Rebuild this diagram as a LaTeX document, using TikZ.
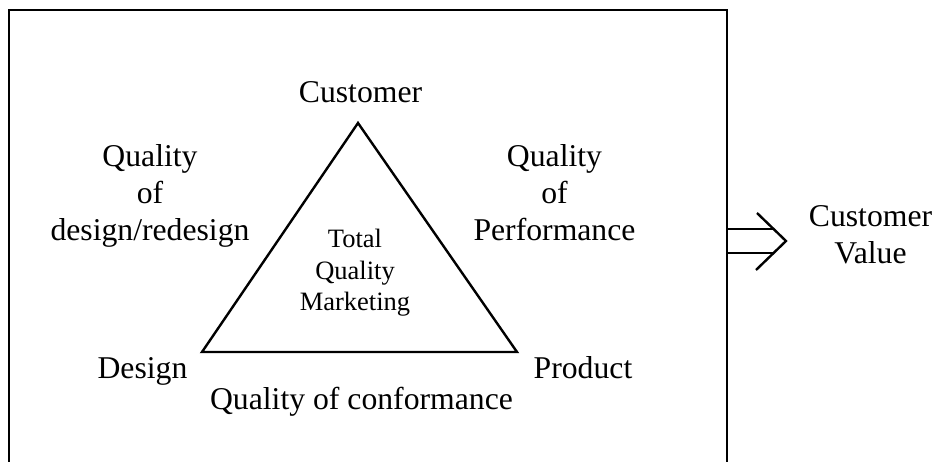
\documentclass[tikz,border=0pt]{standalone}
\usepackage{fontspec}
\setmainfont{Liberation Serif}
\begin{document}
\begin{tikzpicture}[x=1pt,y=-1pt,
  line/.style={line width=2.4pt, line join=miter},
  big/.style={font=\fontsize{31.7}{37}\selectfont, align=center, inner sep=0pt, anchor=base},
  small/.style={font=\fontsize{26.5}{31.7}\selectfont, align=center, inner sep=0pt, anchor=base}]
  \useasboundingbox (0,0) rectangle (937,462);
  % outer frame (its lower edge runs past the page)
  \draw[line] (9,480) -- (9,10) -- (727,10) -- (727,480);
  % triangle corners
  \coordinate (cust) at (358,123);
  \coordinate (desg) at (202,352);
  \coordinate (prod) at (517,352);
  \draw[line] (cust) -- (desg) -- (prod) -- cycle;
  % corner and side labels (multi-line nodes sit on their last baseline)
  \node[big] (lcust) at (360.5,103) {Customer};
  \node[big] (ldesg) at (142.5,378) {Design};
  \node[big] (lprod) at (583,378) {Product};
  \node[big] (qdes) at (150,241) {Quality\\of\\design/redesign};
  \node[big] (qperf) at (554.5,241) {Quality\\of\\Performance};
  \node[big] (qconf) at (361.5,409) {Quality of conformance};
  \node[small] (tqm) at (355,311) {Total\\Quality\\Marketing};
  % hollow double arrow out of the frame
  \coordinate (ua) at (727,229);
  \coordinate (la) at (727,253);
  \coordinate (ub) at (773.6,229);
  \coordinate (lb) at (773.6,253);
  \coordinate (tip) at (786,241);
  \coordinate (bu) at (757,213);
  \coordinate (bl) at (756,270);
  \draw[line] (ua) -- (ub);
  \draw[line] (la) -- (lb);
  \draw[line] (bu) -- (tip) -- (bl);
  \node[big] (cval) at (870.5,264) {Customer\\Value};
\end{tikzpicture}
\end{document}
